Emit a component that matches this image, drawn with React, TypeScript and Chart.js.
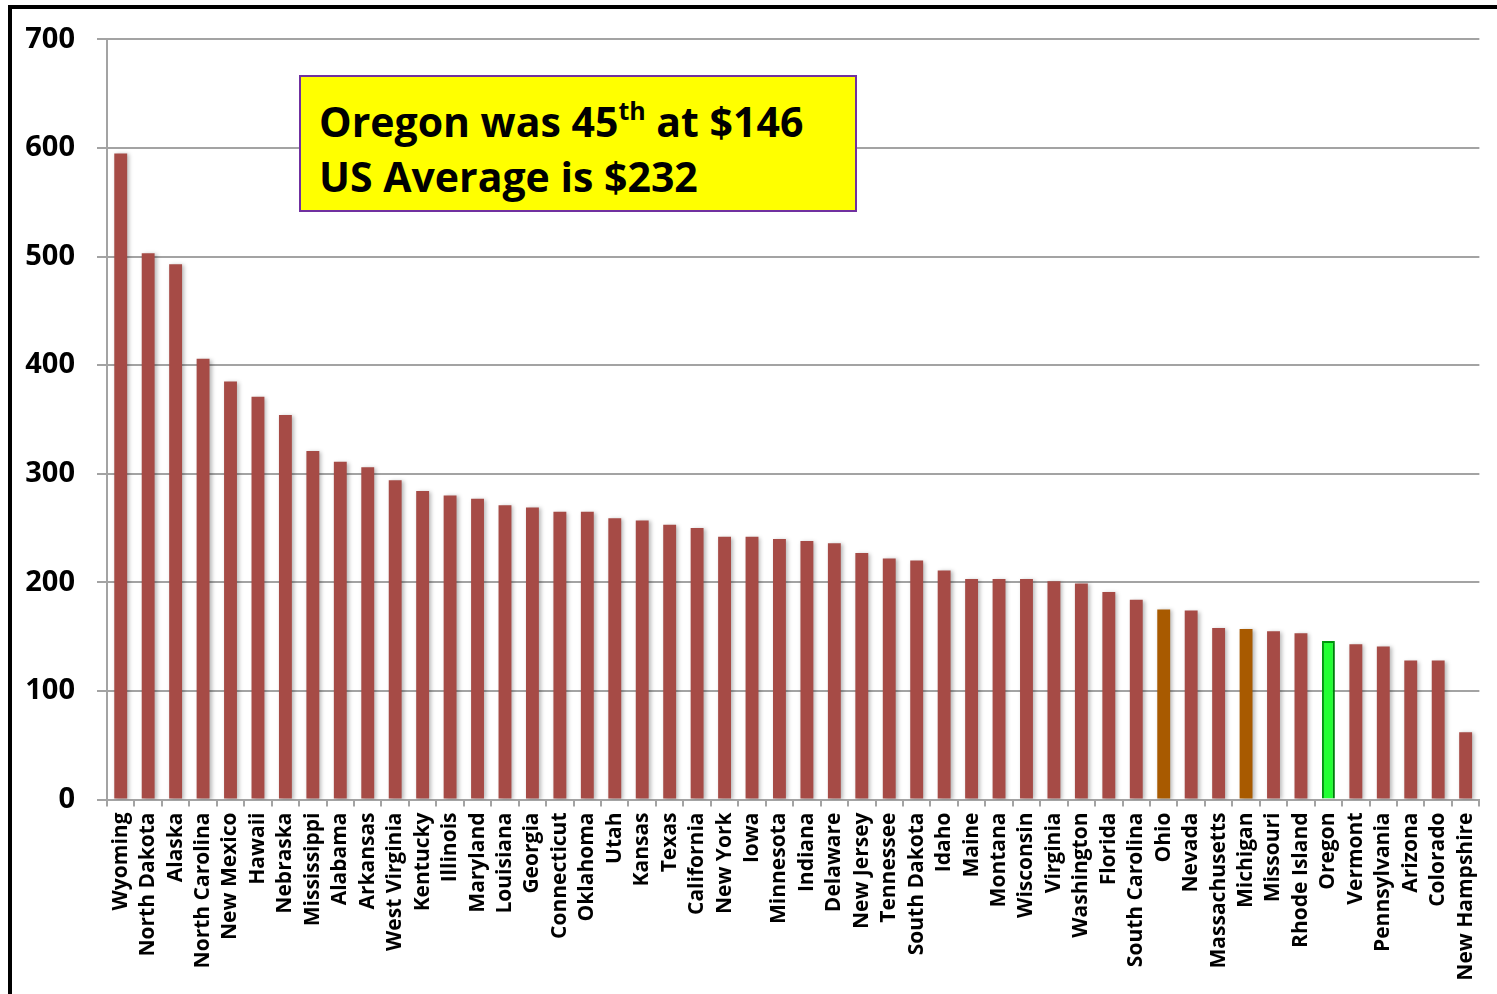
import React, { useEffect, useRef } from "react";
import { Chart, registerables } from "chart.js";

Chart.register(...registerables);

const states = [
  "Wyoming", "North Dakota", "Alaska", "North Carolina", "New Mexico", "Hawaii", "Nebraska",
  "Mississippi", "Alabama", "Arkansas", "West Virginia", "Kentucky", "Illinois", "Maryland",
  "Louisiana", "Georgia", "Connecticut", "Oklahoma", "Utah", "Kansas", "Texas", "California",
  "New York", "Iowa", "Minnesota", "Indiana", "Delaware", "New Jersey", "Tennessee",
  "South Dakota", "Idaho", "Maine", "Montana", "Wisconsin", "Virginia", "Washington", "Florida",
  "South Carolina", "Ohio", "Nevada", "Massachusetts", "Michigan", "Missouri", "Rhode Island",
  "Oregon", "Vermont", "Pennsylvania", "Arizona", "Colorado", "New Hampshire",
];

const values = [
  595, 503, 493, 406, 385, 371, 354,
  321, 311, 306, 294, 284, 280, 277,
  271, 269, 265, 265, 259, 257, 253, 250,
  242, 242, 240, 238, 236, 227, 222,
  220, 211, 203, 203, 203, 201, 199, 191,
  184, 175, 174, 158, 157, 155, 153,
  146, 143, 141, 128, 128, 62,
];

const orangeStates = ["Ohio", "Michigan"];
const greenStates = ["Oregon"];

const yTicks = [0, 100, 200, 300, 400, 500, 600, 700];

const RED = "#A64B46";
const ORANGE = "#A85A00";
const GREEN = "#22FF33";
const GREEN_BORDER = "#009A10";
const GRID = "#A3A3A3";

const FONT = "'Open Sans', 'Noto Sans', sans-serif";

export default function App() {
  const canvasRef = useRef<HTMLCanvasElement | null>(null);

  useEffect(() => {
    const canvas = canvasRef.current;
    if (!canvas) return;

    const bg = states.map((s) =>
      greenStates.includes(s) ? GREEN : orangeStates.includes(s) ? ORANGE : RED
    );
    const bd = states.map((s) => (greenStates.includes(s) ? GREEN_BORDER : "rgba(0,0,0,0)"));
    const bw = states.map((s) => (greenStates.includes(s) ? 2 : 0));

    const shadowPlugin = {
      id: "barShadow",
      beforeDatasetsDraw(chart: any) {
        const ctx = chart.ctx;
        ctx.save();
        ctx.shadowColor = "rgba(0,0,0,0.28)";
        ctx.shadowBlur = 4;
        ctx.shadowOffsetX = 2;
        ctx.shadowOffsetY = 1;
      },
      afterDatasetsDraw(chart: any) {
        chart.ctx.restore();
      },
    };

    const chart = new Chart(canvas, {
      type: "bar",
      data: {
        labels: states,
        datasets: [
          {
            data: values,
            backgroundColor: bg,
            borderColor: bd,
            borderWidth: bw,
            barPercentage: 0.47,
            categoryPercentage: 1,
          },
        ],
      },
      options: {
        animation: false,
        responsive: true,
        maintainAspectRatio: false,
        layout: { padding: { top: 38, right: 16, left: 0, bottom: 0 } },
        plugins: {
          legend: { display: false },
          tooltip: { enabled: false },
        },
        scales: {
          x: {
            offset: true,
            grid: {
              offset: true,
              drawOnChartArea: false,
              drawTicks: true,
              tickLength: 7,
              color: GRID,
              lineWidth: 2,
            },
            border: { color: GRID, width: 2 },
            ticks: {
              autoSkip: false,
              maxRotation: 90,
              minRotation: 90,
              padding: 6,
              color: "#000",
              font: { family: FONT, size: 21, weight: "bold" },
            },
            afterFit(scale: any) {
              scale.height = 194.5;
            },
          },
          y: {
            min: 0,
            max: 700,
            afterBuildTicks(scale: any) {
              scale.ticks = yTicks.map((v) => ({ value: v }));
            },
            grid: {
              color: GRID,
              lineWidth: 2,
              tickLength: 10,
            },
            border: { color: GRID, width: 2 },
            ticks: {
              padding: 22,
              color: "#000",
              font: { family: FONT, size: 29, weight: "bold" },
            },
            afterFit(scale: any) {
              scale.width = 107;
            },
          },
        },
      },
      plugins: [shadowPlugin],
    });

    return () => chart.destroy();
  }, []);

  const lineStyle: React.CSSProperties = {
    position: "absolute",
    left: 18,
    whiteSpace: "nowrap",
    lineHeight: "56px",
    height: 56,
  };

  return (
    <div
      style={{
        position: "fixed",
        left: 0,
        top: 0,
        width: 1497,
        height: 994,
        overflow: "hidden",
        background: "#fff",
      }}
    >
      <div style={{ position: "absolute", left: 0, top: 0, width: 1497, height: 994 }}>
        <canvas ref={canvasRef} />
      </div>
      <div
        style={{
          position: "absolute",
          left: 299,
          top: 75,
          width: 558,
          height: 137,
          boxSizing: "border-box",
          background: "#FFFF00",
          border: "2px solid #7030A0",
          fontFamily: FONT,
          fontWeight: "bold",
          fontSize: 41,
          color: "#000",
        }}
      >
        <div style={{ ...lineStyle, top: 16 }}>
          Oregon was 45
          <span style={{ fontSize: 25, position: "relative", top: -17, lineHeight: 0 }}>th</span>{" "}
          at $146
        </div>
        <div style={{ ...lineStyle, top: 71 }}>US Average is $232</div>
      </div>
      <div
        style={{
          position: "absolute",
          left: 8,
          top: 5,
          width: 1600,
          height: 1100,
          border: "4px solid #000",
          pointerEvents: "none",
        }}
      />
    </div>
  );
}
